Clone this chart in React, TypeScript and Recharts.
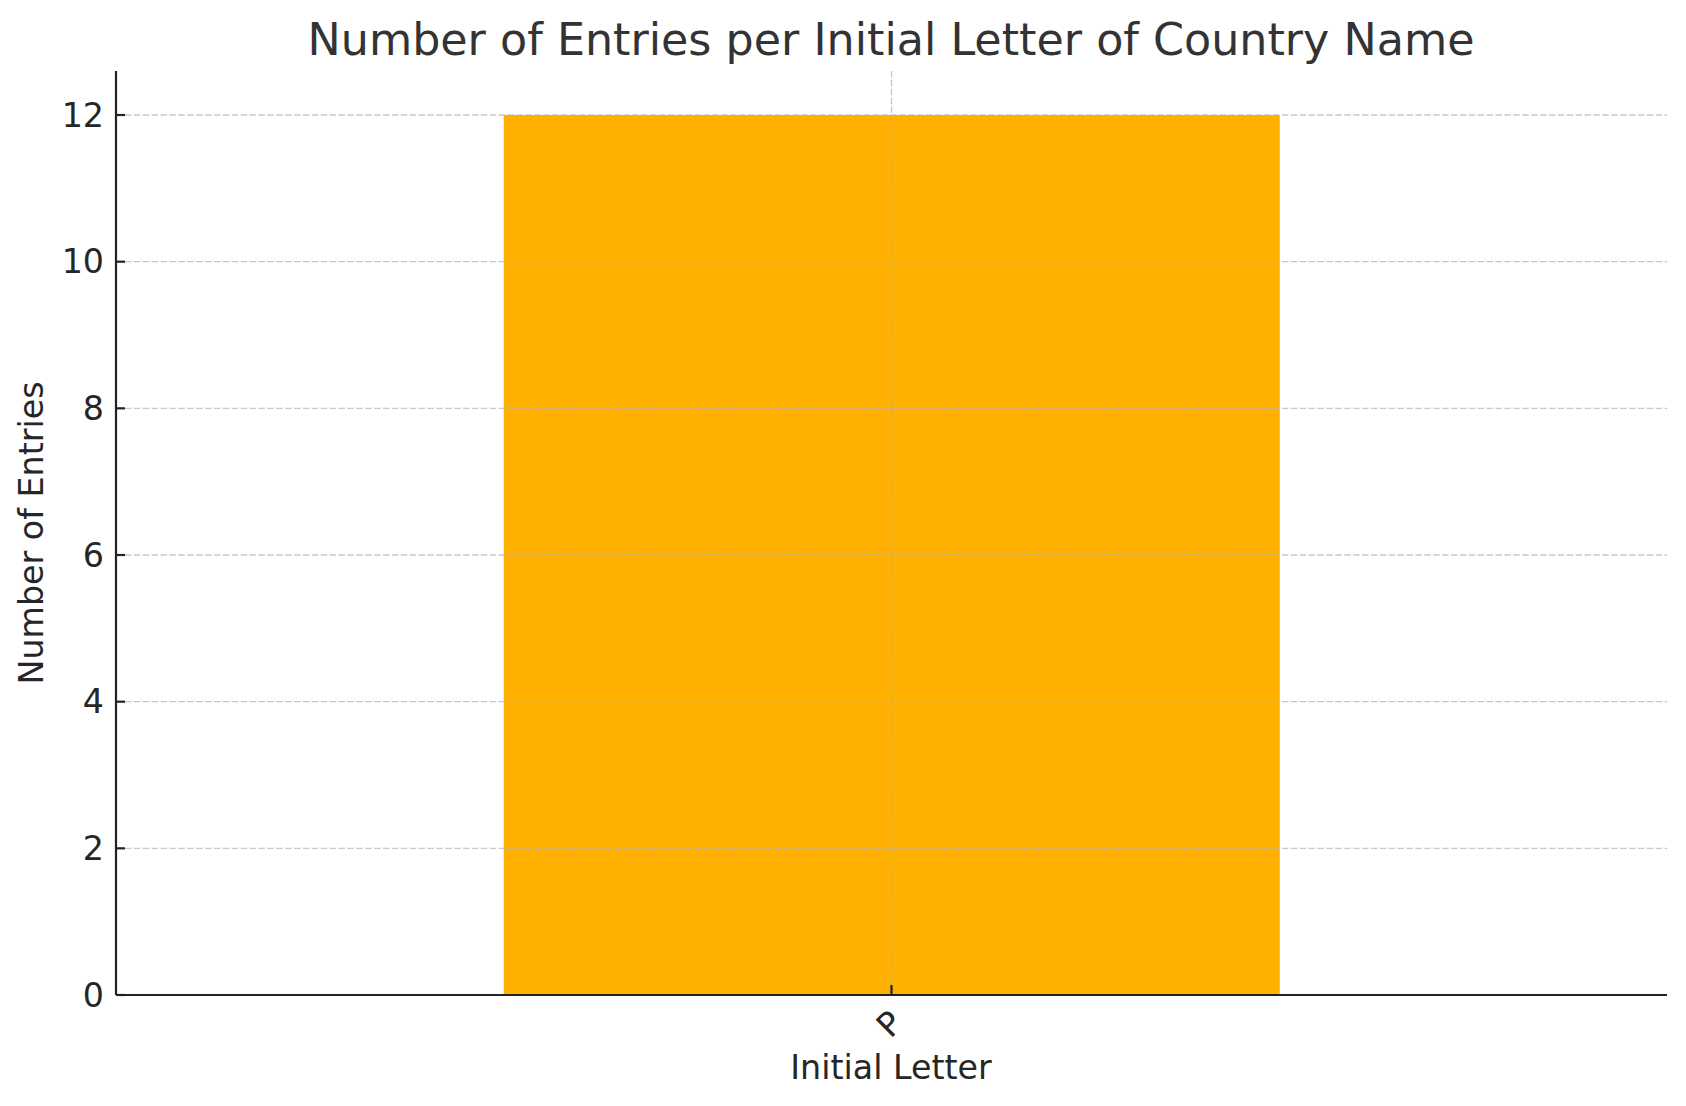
import React from "react";
import { BarChart, Bar, XAxis, YAxis, CartesianGrid } from "recharts";

const letters = ["P"];
const entryCounts = [12];
const yTicks = [0, 2, 4, 6, 8, 10, 12];

const data = letters.map((letter, i) => ({ letter, count: entryCounts[i] }));

const W = 1686;
const H = 1106;
const PLOT_LEFT = 116;
const PLOT_BOTTOM = 995;
const FONT = "'DejaVu Sans', sans-serif";
const INK = "#262626";
const MARGIN = { top: 71, right: 19, bottom: 51, left: 36 };
const SPINE = { stroke: "#222", strokeWidth: 2.2 };

const YTick = (props: any) => {
  const { y, payload } = props;
  return (
    <g>
      <line x1={PLOT_LEFT} x2={PLOT_LEFT + 9} y1={y} y2={y} stroke="#222" strokeWidth={2.2} />
      <text x={PLOT_LEFT - 12} y={y} textAnchor="end" dominantBaseline="central" fontSize={33.3} fontFamily={FONT} fill={INK}>
        {payload.value}
      </text>
    </g>
  );
};

const XTick = (props: any) => {
  const { x, payload } = props;
  const cx = x - 2;
  const cy = 1024;
  return (
    <g>
      <line x1={x} x2={x} y1={PLOT_BOTTOM} y2={PLOT_BOTTOM - 10} stroke="#222" strokeWidth={2.2} />
      <text
        x={cx}
        y={cy}
        textAnchor="middle"
        dominantBaseline="central"
        fontSize={33.3}
        fontFamily={FONT}
        fill={INK}
        transform={`rotate(-45, ${cx}, ${cy})`}
      >
        {payload.value}
      </text>
    </g>
  );
};

const NoTick = () => <g />;

// bottom layer: just the bar
function BarLayer() {
  return (
    <BarChart width={W} height={H} data={data} margin={MARGIN} barCategoryGap="25%">
      <XAxis dataKey="letter" height={60} axisLine={false} tickLine={false} tick={<NoTick />} interval={0} />
      <YAxis width={80} domain={[0, 12.6]} ticks={yTicks} axisLine={false} tickLine={false} tick={<NoTick />} />
      <Bar dataKey="count" fill="#FFB000" isAnimationActive={false} />
    </BarChart>
  );
}

// top layer: grid and axes, drawn over the bar like in the original
function GridLayer() {
  return (
    <BarChart width={W} height={H} data={data} margin={MARGIN} barCategoryGap="25%">
      <CartesianGrid
        syncWithTicks
        stroke="#b0b0b0"
        strokeOpacity={0.7}
        strokeWidth={1.4}
        strokeDasharray="6.5 2.4"
      />
      <XAxis dataKey="letter" height={60} axisLine={SPINE} tickLine={false} tick={<XTick />} interval={0} />
      <YAxis width={80} domain={[0, 12.6]} ticks={yTicks} axisLine={SPINE} tickLine={false} tick={<YTick />} />
      <Bar dataKey="count" fill="none" isAnimationActive={false} />
    </BarChart>
  );
}

export default function App() {
  return (
    <div style={{ position: "absolute", left: 0, top: 0, width: W, height: H, background: "#fff" }}>
      <BarLayer />
      <div style={{ position: "absolute", left: 0, top: 0, pointerEvents: "none" }}>
        <GridLayer />
      </div>
      <svg
        width={W}
        height={H}
        style={{ position: "absolute", left: 0, top: 0, pointerEvents: "none" }}
      >
        <text x={891} y={55} textAnchor="middle" fontSize={44.4} fontFamily={FONT} fill="#333">
          Number of Entries per Initial Letter of Country Name
        </text>
        <text x={891} y={1079} textAnchor="middle" fontSize={33.3} fontFamily={FONT} fill={INK}>
          Initial Letter
        </text>
        <text
          x={43}
          y={533}
          textAnchor="middle"
          fontSize={33.3}
          fontFamily={FONT}
          fill={INK}
          transform="rotate(-90, 43, 533)"
        >
          Number of Entries
        </text>
      </svg>
    </div>
  );
}
